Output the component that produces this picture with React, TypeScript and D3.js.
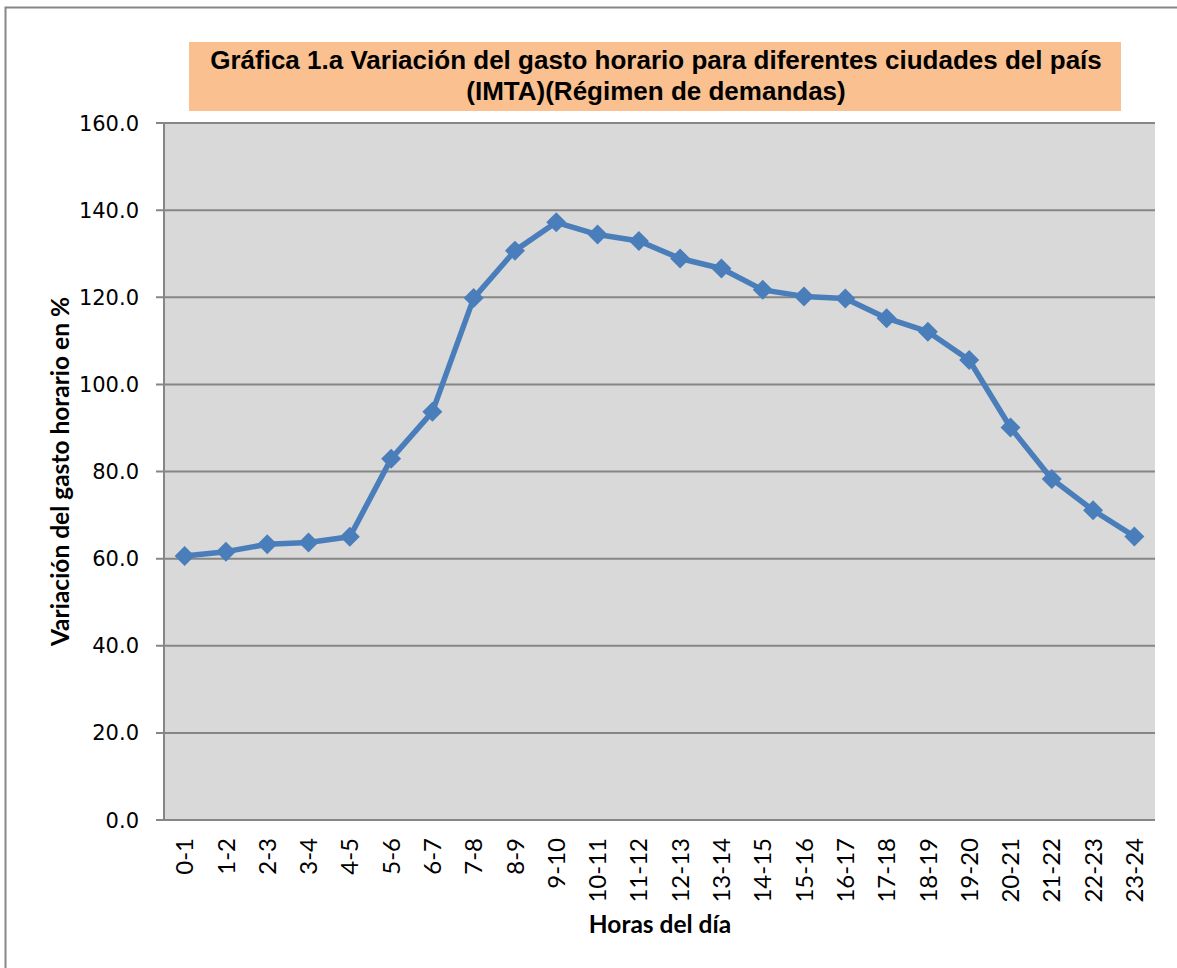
import React from "react";
import * as d3 from "d3";

const categories: string[] = [
  "0-1", "1-2", "2-3", "3-4", "4-5", "5-6", "6-7", "7-8", "8-9", "9-10",
  "10-11", "11-12", "12-13", "13-14", "14-15", "15-16", "16-17", "17-18",
  "18-19", "19-20", "20-21", "21-22", "22-23", "23-24",
];
const values: number[] = [
  60.6, 61.6, 63.3, 63.7, 65.0, 82.9, 93.7, 119.8, 130.7, 137.2,
  134.4, 132.9, 128.9, 126.6, 121.7, 120.2, 119.7, 115.2,
  112.1, 105.6, 90.1, 78.3, 71.1, 65.1,
];
const yTicks: number[] = [0, 20, 40, 60, 80, 100, 120, 140, 160];
const titleLines: string[] = [
  "Gráfica 1.a Variación del gasto horario para diferentes ciudades del país",
  "(IMTA)(Régimen de demandas)",
];
const yTitle = "Variación del gasto horario en %";
const xTitle = "Horas del día";

const W = 1177;
const H = 968;
const plot = { left: 164, right: 1155, top: 123, bottom: 820 };

export default function App() {
  const x = d3
    .scalePoint<string>()
    .domain(categories)
    .range([plot.left, plot.right])
    .padding(0.5);
  const y = d3.scaleLinear().domain([0, 160]).range([plot.bottom, plot.top]);

  const line = d3
    .line<number>()
    .x((_, i) => x(categories[i]) as number)
    .y((d) => y(d));

  const grid = "#868686";
  const blue = "#4A7EBB";
  const calibri = "Lato, 'Noto Sans', sans-serif";

  return (
    <svg
      width={W}
      height={H}
      style={{ position: "absolute", left: 0, top: 0, background: "#fff" }}
    >
      <rect x={0} y={0} width={W} height={H} fill="#fff" />
      <rect
        x={5.5}
        y={7.5}
        width={W + 20}
        height={H + 20}
        fill="none"
        stroke="#878787"
        strokeWidth={2}
      />
      {/* title */}
      <rect x={189} y={42} width={932} height={69} fill="#FAC090" />
      {titleLines.map((t, i) => (
        <text
          key={i}
          x={656}
          y={69 + i * 31}
          textAnchor="middle"
          fontFamily="'Liberation Sans', Arial, sans-serif"
          fontWeight="bold"
          fontSize={26}
          fill="#000"
        >
          {t}
        </text>
      ))}
      {/* plot background */}
      <rect
        x={plot.left}
        y={plot.top}
        width={plot.right - plot.left}
        height={plot.bottom - plot.top}
        fill="#D9D9D9"
      />
      {/* gridlines and y ticks */}
      {yTicks.map((t) => (
        <g key={t}>
          <line
            x1={plot.left - 8}
            x2={plot.right}
            y1={y(t)}
            y2={y(t)}
            stroke={grid}
            strokeWidth={2}
          />
          <text
            x={139}
            y={y(t)}
            dy="0.36em"
            textAnchor="end"
            fontFamily="'DejaVu Sans', Verdana, sans-serif"
            fontSize={21}
            fill="#000"
          >
            {t.toFixed(1)}
          </text>
        </g>
      ))}
      {/* y axis line */}
      <line
        x1={plot.left}
        x2={plot.left}
        y1={plot.top}
        y2={plot.bottom}
        stroke={grid}
        strokeWidth={2}
      />
      {/* x tick labels */}
      {categories.map((c) => (
        <text
          key={c}
          transform={`translate(${x(c)},838) rotate(-90)`}
          dy="0.36em"
          textAnchor="end"
          fontFamily={calibri}
          fontSize={24}
          fill="#000"
        >
          {c}
        </text>
      ))}
      {/* axis titles */}
      <text
        transform={`translate(69,${(plot.top + plot.bottom) / 2}) rotate(-90)`}
        textAnchor="middle"
        fontFamily={calibri}
        fontWeight="bold"
        fontSize={24.5}
        fill="#000"
      >
        {yTitle}
      </text>
      <text
        x={660}
        y={933}
        textAnchor="middle"
        fontFamily={calibri}
        fontWeight="bold"
        fontSize={24.5}
        fill="#000"
      >
        {xTitle}
      </text>
      {/* series */}
      <path
        d={line(values) ?? ""}
        fill="none"
        stroke={blue}
        strokeWidth={5.5}
        strokeLinejoin="round"
      />
      {values.map((v, i) => {
        const cx = x(categories[i]) as number;
        const cy = y(v);
        const r = 10;
        return (
          <path
            key={i}
            d={`M${cx},${cy - r}L${cx + r},${cy}L${cx},${cy + r}L${cx - r},${cy}Z`}
            fill={blue}
          />
        );
      })}
    </svg>
  );
}
